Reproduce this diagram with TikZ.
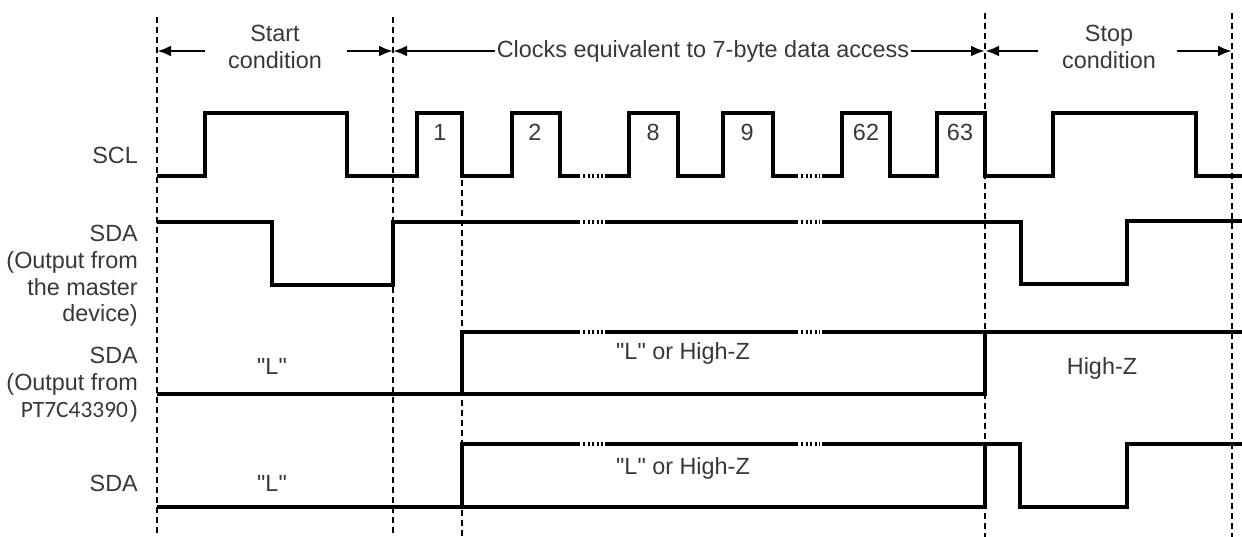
\documentclass[tikz,border=0pt]{standalone}
\usepackage{fontspec}
\setmainfont{Liberation Sans}
\newfontfamily\partfont{Carlito}
\usepackage{tikz}
\usetikzlibrary{arrows.meta,calc}
\usepackage{xcolor}
\definecolor{labelgrey}{HTML}{383838}

\tikzset{
  wave/.style={line width=3.2pt,line join=miter,black},
  gapdots/.style={line width=3.2pt,black,dash pattern=on 2pt off 2.6pt},
  guide/.style={line width=2.4pt,black,dash pattern=on 6pt off 4pt},
  span/.style={line width=2.8pt,-{Latex[length=14pt,width=11pt]}},
  lbl/.style={font=\fontsize{23.4}{26.8}\selectfont,text=labelgrey,inner sep=0pt},
}

\begin{document}
\begin{tikzpicture}[x=1pt,y=-1pt]
  \useasboundingbox (0,0) rectangle (1242,537);
  \foreach \x/\t in {157/17,393/17,985/13,1232/13}
    \draw[guide] (\x,\t) -- (\x,537);
  \draw[guide] (462,180) -- (462,537);

  \coordinate (m0) at (157,51);
  \coordinate (m1) at (393,51);
  \coordinate (m2) at (985,51);
  \coordinate (m3) at (1232,51);
  \node[lbl,align=center] (start) at (275,47) {Start\\condition};
  \node[lbl,inner sep=2pt] (clocks) at (703,51) {Clocks equivalent to 7-byte data access};
  \node[lbl,align=center] (stop) at (1109,47) {Stop\\condition};
  \draw[span] ($(start.west|-m0)+(-23,0)$) -- (m0);
  \draw[span] ($(start.east|-m1)+(25,0)$) -- (m1);
  \draw[span] (clocks.west) -- (m1);
  \draw[span] (clocks.east) -- (m2);
  \draw[span] ($(stop.west|-m2)+(-24,0)$) -- (m2);
  \draw[span] ($(stop.east|-m3)+(21,0)$) -- (m3);

  \node[lbl,anchor=east] (scl) at (138,155) {SCL};
  \node[lbl,anchor=east,align=right] (sdamaster) at (138,276) {SDA\\(Output from\\the master\\device)};
  \node[lbl,anchor=east,align=right] (sdapart) at (138,385) {SDA\\(Output from\\{\partfont PT7C43390}\kern2pt)};
  \node[lbl,anchor=east] (sdabus) at (138,483) {SDA};

  \draw[wave] (157,176) -- (205,176) -- (205,113) -- (347,113) -- (347,176) -- (417,176)
    -- (417,113) -- (462,113) -- (462,176) -- (512,176) -- (512,113) -- (560,113)
    -- (560,176) -- (580,176) (605,176) -- (629,176) -- (629,113) -- (678,113) -- (678,176)
    -- (723,176) -- (723,113) -- (773,113) -- (773,176) -- (798,176) (822,176)
    -- (842,176) -- (842,113) -- (890,113) -- (890,176) -- (937,176) -- (937,113)
    -- (985,113) -- (985,176) -- (1053,176) -- (1053,113) -- (1196,113) -- (1196,176)
    -- (1242,176);
  \foreach \x/\n in {440/1,535/2,653/8,747/9,866/62,960/63}
    \node[lbl] (clk\n) at (\x,132) {\n};

  \draw[wave] (157,222) -- (272,222) -- (272,285) -- (393,285) -- (393,222) -- (580,222)
    (605,222) -- (798,222) (822,222) -- (1021,222) -- (1021,284) -- (1127,284)
    -- (1127,221) -- (1242,221);

  \draw[wave] (157,394) -- (985,394) -- (985,332);
  \draw[wave] (462,394) -- (462,332) -- (580,332) (605,332) -- (798,332)
    (822,332) -- (1242,332);
  \node[lbl] (lowpart) at (272,366) {\textquotedbl L\textquotedbl};
  \node[lbl] (eitherpart) at (683,353) {\textquotedbl L\textquotedbl{} or High-Z};
  \node[lbl] (hizpart) at (1102,368) {High-Z};

  \draw[wave] (157,507) -- (985,507) -- (985,444);
  \draw[wave] (462,507) -- (462,444) -- (580,444) (605,444) -- (798,444)
    (822,444) -- (1020,444) -- (1020,507) -- (1127,507) -- (1127,444) -- (1242,444);
  \node[lbl] (lowbus) at (272,483) {\textquotedbl L\textquotedbl};
  \node[lbl] (eitherbus) at (683,468) {\textquotedbl L\textquotedbl{} or High-Z};

  \foreach \y in {176,222,332,444} {
    \draw[gapdots] (583,\y) -- (603,\y);
    \draw[gapdots] (801,\y) -- (820,\y);
  }
\end{tikzpicture}
\end{document}
